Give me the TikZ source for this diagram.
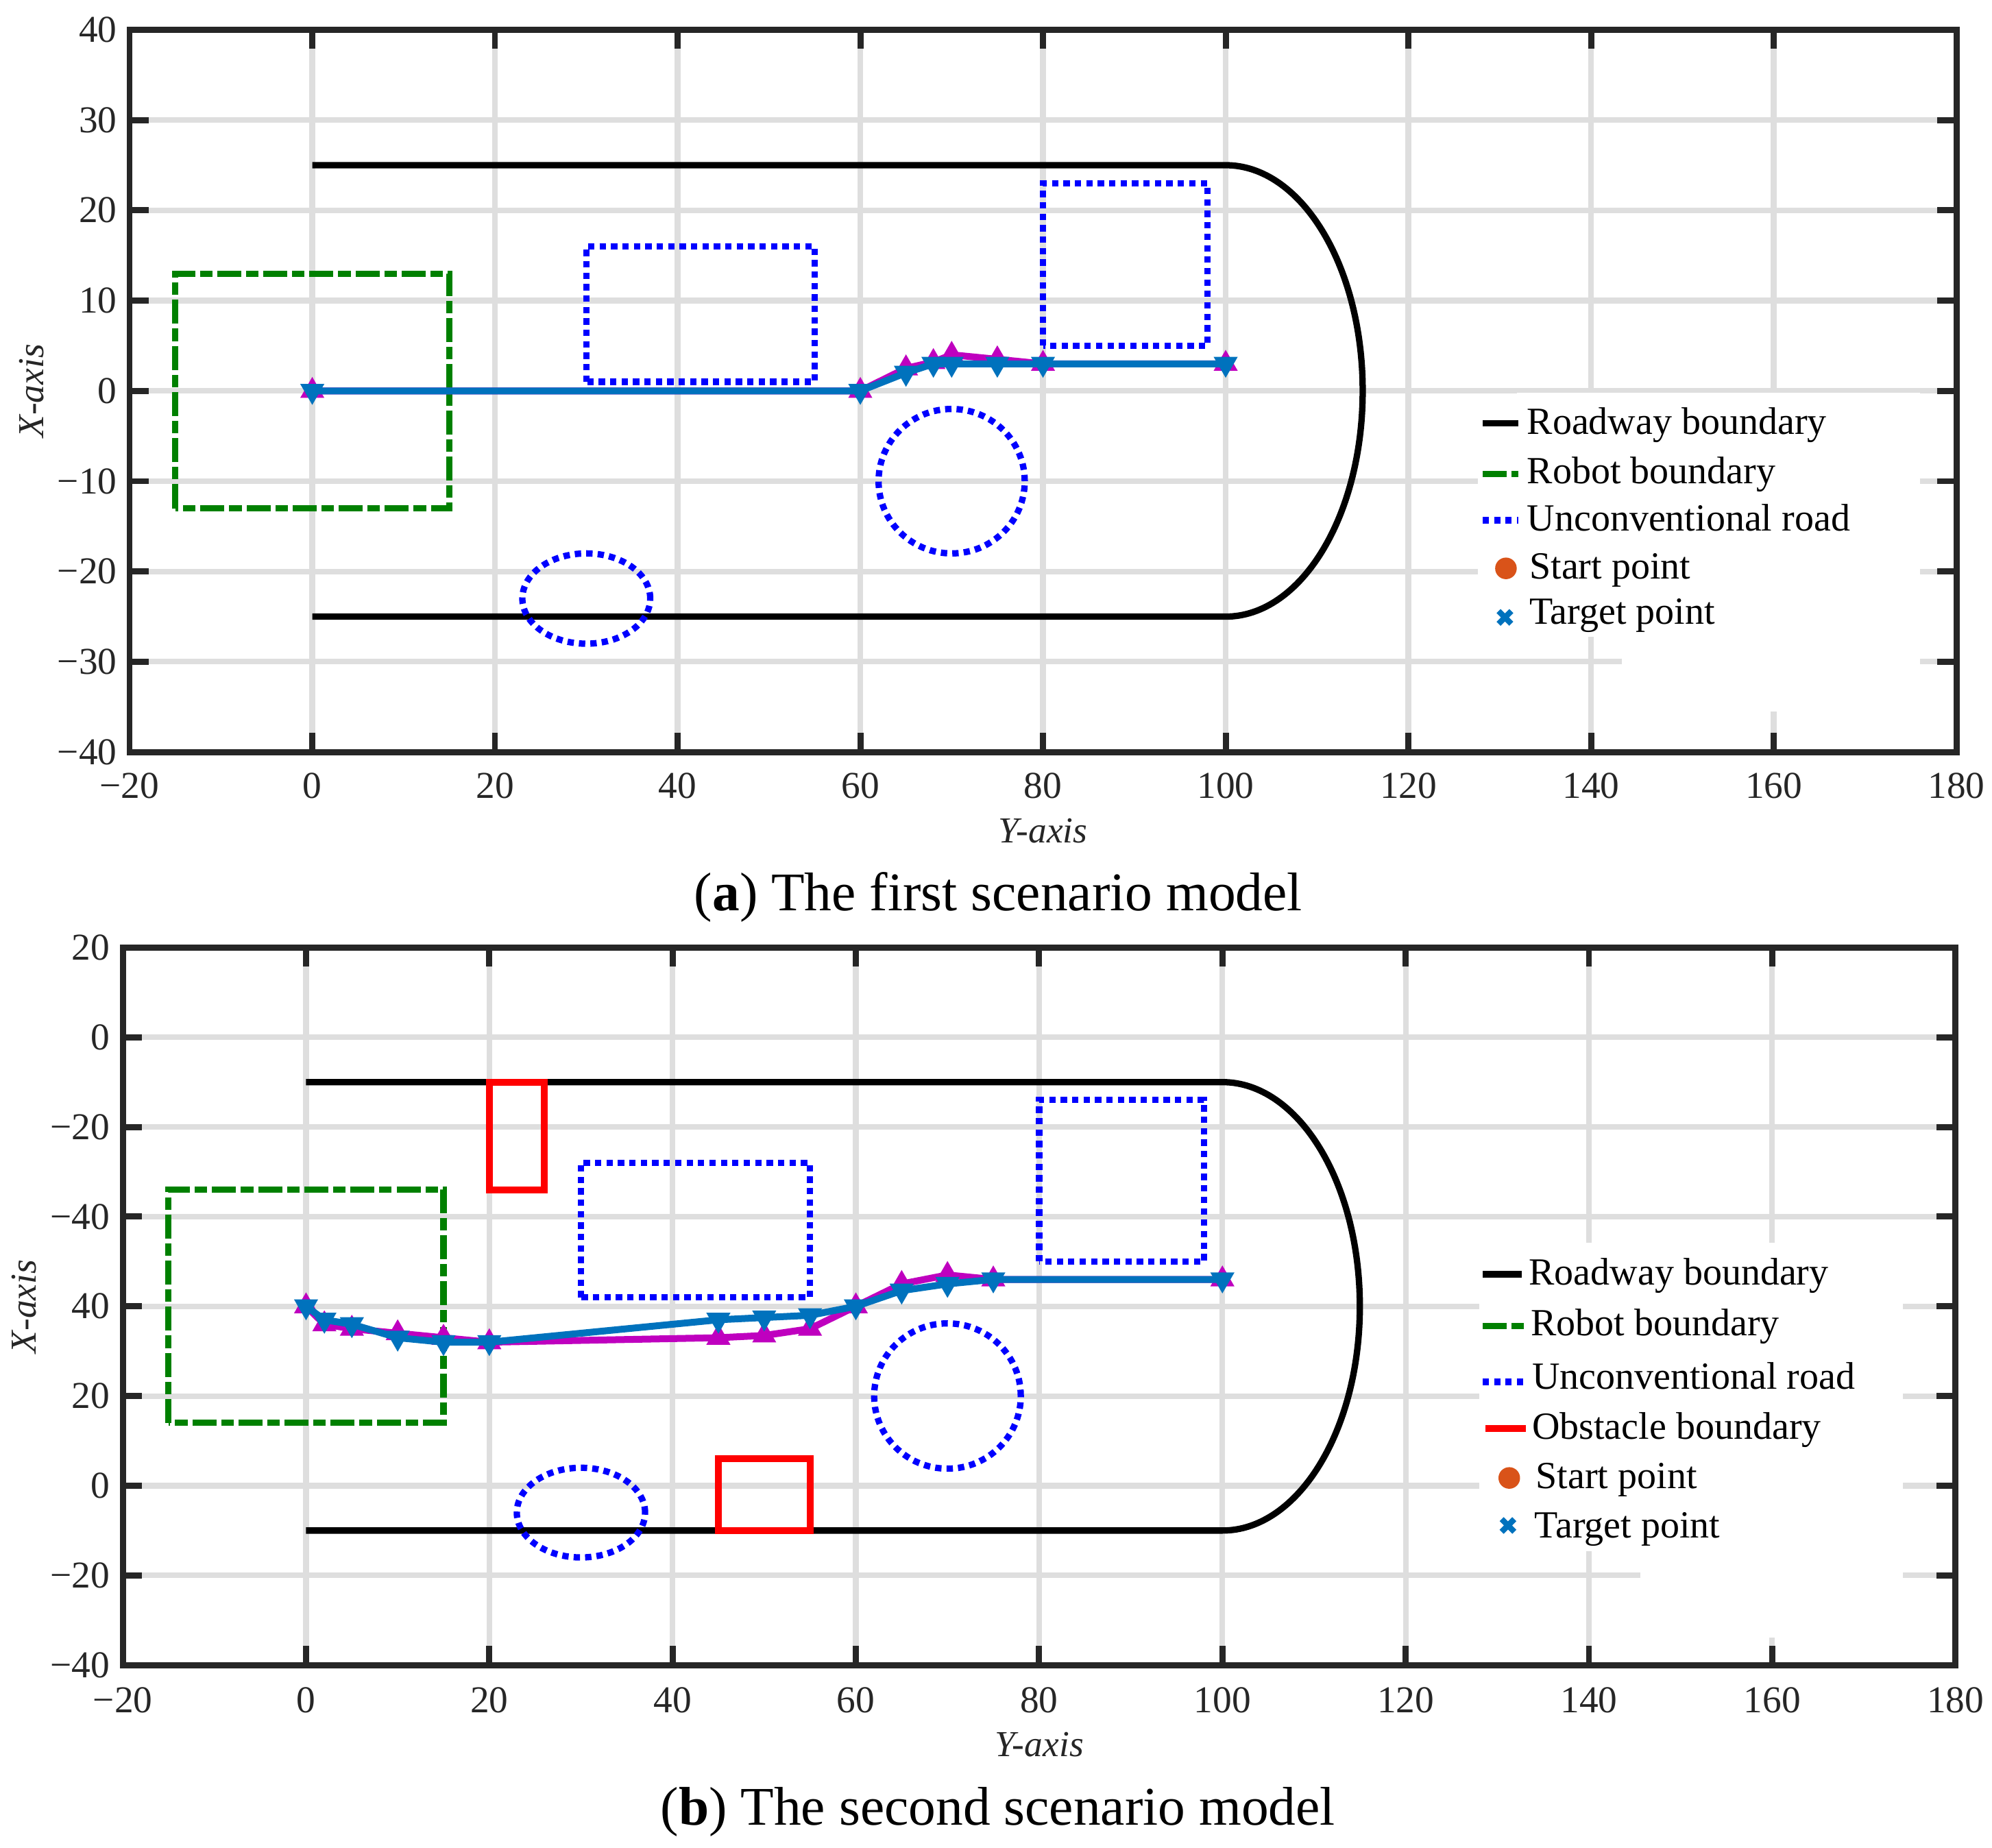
\documentclass[tikz,border=0pt]{standalone}
\usepackage{fontspec}
\setmainfont{Liberation Serif}
\usepackage{xcolor}

\definecolor{axisgray}{RGB}{38,38,38}
\definecolor{gridgray}{RGB}{222,222,222}
\definecolor{robotgreen}{RGB}{0,128,0}
\definecolor{unblue}{RGB}{0,0,255}
\definecolor{obstred}{RGB}{255,0,0}
\definecolor{pathmag}{RGB}{191,0,191}
\definecolor{pathblue}{RGB}{0,114,189}
\definecolor{startorange}{RGB}{217,83,25}

\newcommand{\ticksize}{\fontsize{8.5pt}{10pt}\selectfont}
\newcommand{\legsize}{\fontsize{8.6pt}{10pt}\selectfont}
\newcommand{\labsize}{\fontsize{8.2pt}{10pt}\selectfont\itshape}
\newcommand{\capsize}{\fontsize{12.2pt}{14pt}\selectfont}

\begin{document}
\begin{tikzpicture}[x=0.1mm, y=-0.1mm,
    every node/.style={inner sep=0pt, outer sep=0pt},
    gridline/.style={gridgray, line width=0.44mm},
    axisframe/.style={axisgray, line width=0.48mm},
    tickmark/.style={axisgray, line width=0.48mm},
    ticklabel/.style={font=\ticksize, text=axisgray},
    axislabel/.style={font=\labsize, text=axisgray},
    legendtext/.style={font=\legsize, anchor=base west},
    captiontext/.style={font=\capsize, anchor=base},
    roadway/.style={black, line width=0.5mm},
    robot/.style={robotgreen, line width=0.49mm, dash pattern=on 1.89mm off 0.38mm on 0.98mm off 0.38mm},
    unconv/.style={unblue, line width=0.5mm, dash pattern=on 0.5mm off 0.4mm},
    obstacle/.style={obstred, line width=0.54mm},
    pathmagenta/.style={pathmag, line width=0.54mm, line join=round},
    pathcyan/.style={pathblue, line width=0.54mm, line join=round},
    uptri/.pic={\fill[pathmag] (0,1.1mm) -- (-0.95mm,-0.55mm) -- (0.95mm,-0.55mm) -- cycle;},
    downtri/.pic={\fill[pathblue] (0,-1.1mm) -- (-0.95mm,0.55mm) -- (0.95mm,0.55mm) -- cycle;},
    startdot/.pic={\fill[startorange] (0,0) circle (0.85mm);},
    targetx/.pic={\draw[pathblue, line width=0.45mm] (-0.5mm,-0.5mm) -- (0.5mm,0.5mm) (-0.5mm,0.5mm) -- (0.5mm,-0.5mm);}
]
    \useasboundingbox (0,0) rectangle (1568,1454.2);

    % (a) first scenario
    \begin{scope}[shift={(245.8,307.7)}, x=0.719mm, y=0.7107mm]
        \foreach \gx in {0,20,...,160} \draw[gridline] (\gx,-40) -- (\gx,40);
        \foreach \gy in {-30,-20,...,30} \draw[gridline] (-20,\gy) -- (180,\gy);
        \fill[white] (127.6,-0.39) rectangle (176,-27.2);
        \fill[white] (131.9,-0.18) rectangle (176,-0.4);
        \fill[white] (143.4,-27.2) rectangle (176,-35.5);

        \draw[roadway] (0,25) -- (100,25) arc[start angle=90, end angle=-90, x radius=15, y radius=25] -- (0,-25);
        \draw[robot] (-15,-13) rectangle (15,13);
        \draw[unconv] (30,1) rectangle (55,16);
        \draw[unconv] (80,5) rectangle (98,23);
        \draw[unconv] (70,-10) circle [radius=8];
        \draw[unconv] (30,-23) ellipse [x radius=7, y radius=5];

        \draw[pathmagenta] (0,0) -- (60,0) -- (65,2.5) -- (68,3.2) -- (70,4) -- (75,3.5) -- (80,3) -- (100,3);
        \foreach \p in {(0,0),(60,0),(65,2.5),(68,3.2),(70,4),(75,3.5),(80,3),(100,3)} \pic at \p {uptri};
        \draw[pathcyan] (0,0) -- (60,0) -- (65,2) -- (68,3) -- (70,3) -- (75,3) -- (80,3) -- (100,3);
        \foreach \p in {(0,0),(60,0),(65,2),(68,3),(70,3),(75,3),(80,3),(100,3)} \pic at \p {downtri};

        \foreach \tx in {-20,0,...,180} {
            \draw[tickmark] (\tx,-40) -- ++(0,1.5mm);
            \draw[tickmark] (\tx,40) -- ++(0,-1.5mm);
        }
        \foreach \ty in {-40,-30,...,40} {
            \draw[tickmark] (-20,\ty) -- ++(1.5mm,0);
            \draw[tickmark] (180,\ty) -- ++(-1.5mm,0);
        }
        \draw[axisframe] (-20,-40) rectangle (180,40);

        \foreach \tx/\tl [count=\i] in {-20/−20,0/0,20/20,40/40,60/60,80/80,100/100,120/120,140/140,160/160,180/180}
            \node[ticklabel, yshift=-2.68mm] (xtick_a_\i) at (\tx,-40) {\tl};
        \foreach \ty/\tl [count=\i] in {-40/−40,-30/−30,-20/−20,-10/−10,0/0,10/10,20/20,30/30,40/40}
            \node[ticklabel, anchor=east, xshift=-1mm] (ytick_a_\i) at (-20,\ty) {\tl};
    \end{scope}

    \node[axislabel] (xlabel_a) at (821,654) {Y-axis};
    \node[axislabel, rotate=90] (ylabel_a) at (25,307.7) {X-axis};

    \draw[roadway] (1167,333) -- (1195,333);
    \node[legendtext] (leg_road_a) at (1202,342) {Roadway boundary};
    \draw[robot] (1167,373) -- (1195,373);
    \node[legendtext] (leg_robot_a) at (1202,380.5) {Robot boundary};
    \draw[unconv] (1167,409.6) -- (1195,409.6);
    \node[legendtext] (leg_unconv_a) at (1202,418) {Unconventional road};
    \pic at (1185.4,447.4) {startdot};
    \node[legendtext] (leg_start_a) at (1204,455.8) {Start point};
    \pic at (1184.6,486) {targetx};
    \node[legendtext] (leg_target_a) at (1204,491.4) {Target point};

    \node[captiontext] (caption_a) at (785.8,716.7) {(\textbf{a}) The first scenario model};

    % (b) second scenario
    \begin{scope}[shift={(240.9,816.5)}, x=0.7213mm, y=0.353mm]
        \foreach \gx in {0,20,...,160} \draw[gridline] (\gx,-140) -- (\gx,20);
        \foreach \gy in {-120,-100,...,0} \draw[gridline] (-20,\gy) -- (180,\gy);
        \fill[white] (128,-45.75) rectangle (174.3,-114.6);
        \fill[white] (145.6,-114.6) rectangle (174.3,-133.9);

        \draw[roadway] (0,-10) -- (100,-10) arc[start angle=90, end angle=-90, x radius=15, y radius=50] -- (0,-110);
        \draw[robot] (-15,-86) rectangle (15,-34);
        \draw[unconv] (30,-58) rectangle (55,-28);
        \draw[unconv] (80,-50) rectangle (98,-14);
        \draw[unconv] (70,-80) ellipse [x radius=8, y radius=16.2];
        \draw[unconv] (30,-106) ellipse [x radius=7, y radius=10];
        \draw[obstacle] (20,-34) rectangle (26,-10);
        \draw[obstacle] (45,-110) rectangle (55,-94);

        \draw[pathmagenta] (0,-60) -- (2,-64) -- (5,-65) -- (10,-66) -- (15,-67) -- (20,-68) -- (45,-67) -- (50,-66.5) -- (55,-65) -- (60,-60) -- (65,-55) -- (70,-53) -- (75,-54) -- (100,-54);
        \foreach \p in {(0,-60),(2,-64),(5,-65),(10,-66),(15,-67),(20,-68),(45,-67),(50,-66.5),(55,-65),(60,-60),(65,-55),(70,-53),(75,-54),(100,-54)} \pic at \p {uptri};
        \draw[pathcyan] (0,-60) -- (2,-63) -- (5,-64) -- (10,-67) -- (15,-68) -- (20,-68) -- (45,-63) -- (50,-62.5) -- (55,-62) -- (60,-60) -- (65,-56.5) -- (70,-55) -- (75,-54) -- (100,-54);
        \foreach \p in {(0,-60),(2,-63),(5,-64),(10,-67),(15,-68),(20,-68),(45,-63),(50,-62.5),(55,-62),(60,-60),(65,-56.5),(70,-55),(75,-54),(100,-54)} \pic at \p {downtri};

        \foreach \tx in {-20,0,...,180} {
            \draw[tickmark] (\tx,-140) -- ++(0,1.5mm);
            \draw[tickmark] (\tx,20) -- ++(0,-1.5mm);
        }
        \foreach \ty in {-140,-120,...,20} {
            \draw[tickmark] (-20,\ty) -- ++(1.5mm,0);
            \draw[tickmark] (180,\ty) -- ++(-1.5mm,0);
        }
        \draw[axisframe] (-20,-140) rectangle (180,20);

        \foreach \tx/\tl [count=\i] in {-20/−20,0/0,20/20,40/40,60/60,80/80,100/100,120/120,140/140,160/160,180/180}
            \node[ticklabel, yshift=-2.79mm] (xtick_b_\i) at (\tx,-140) {\tl};
        \foreach \ty/\tl [count=\i] in {-140/−40,-120/−20,-100/0,-80/20,-60/40,-40/−40,-20/−20,0/0,20/20}
            \node[ticklabel, anchor=east, xshift=-1.04mm] (ytick_b_\i) at (-20,\ty) {\tl};
    \end{scope}

    \node[axislabel] (xlabel_b) at (818,1373) {Y-axis};
    \node[axislabel, rotate=90] (ylabel_b) at (18.7,1028.4) {X-axis};

    \draw[roadway] (1167,1003) -- (1198,1003);
    \node[legendtext] (leg_road_b) at (1203.5,1011.5) {Roadway boundary};
    \draw[robot] (1167,1043.6) -- (1200,1043.6);
    \node[legendtext] (leg_robot_b) at (1205,1051.3) {Robot boundary};
    \draw[unconv] (1167,1087.7) -- (1200,1087.7);
    \node[legendtext] (leg_unconv_b) at (1206,1093.2) {Unconventional road};
    \draw[obstacle] (1169.5,1124.7) -- (1201,1124.7);
    \node[legendtext] (leg_obstacle_b) at (1206,1133) {Obstacle boundary};
    \pic at (1188,1163.4) {startdot};
    \node[legendtext] (leg_start_b) at (1209,1171.5) {Start point};
    \pic at (1187,1200.8) {targetx};
    \node[legendtext] (leg_target_b) at (1208,1210.7) {Target point};

    \node[captiontext] (caption_b) at (785.5,1436.4) {(\textbf{b}) The second scenario model};

\end{tikzpicture}
\end{document}
